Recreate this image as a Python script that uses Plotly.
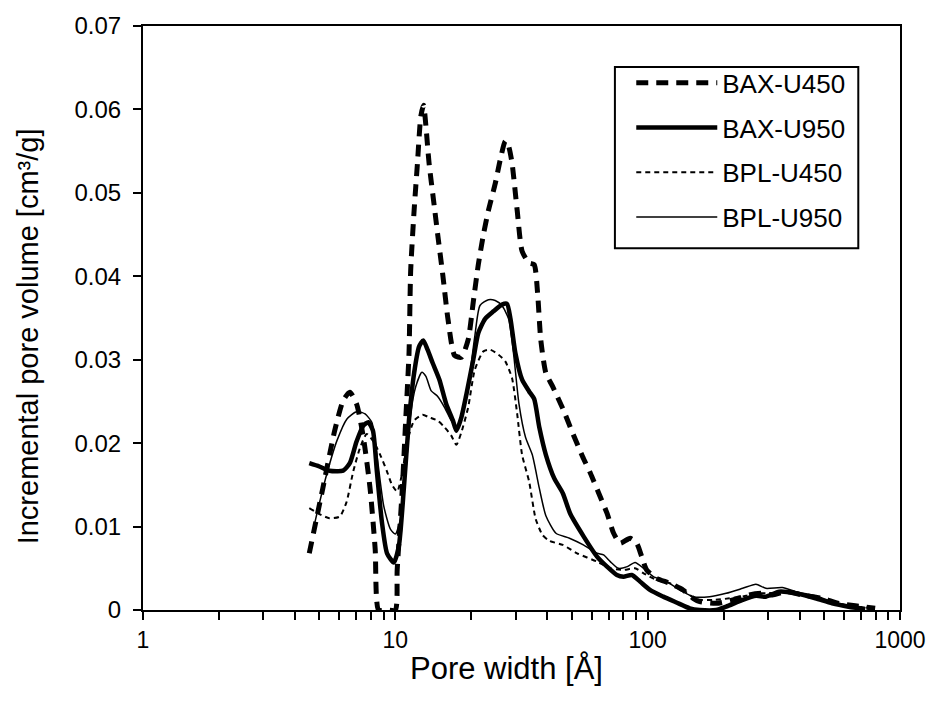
import plotly.graph_objects as go

# ---- data ----
bax_u450_x = [4.56, 5.16, 5.75, 6.21, 6.6, 7.02, 7.47, 7.94, 8.32, 8.58, 9.2, 10.0, 10.17, 10.66, 10.99,
              11.33, 11.5, 11.87, 12.24, 12.62, 12.94, 13.22, 13.6, 14.28, 14.72, 15.43, 16.16, 17.18,
              18.27, 19.44, 20.36, 21.32, 22.34, 23.39, 24.88, 26.06, 27.28, 28.1, 29.0, 30.4, 31.8,
              33.9, 35.5, 36.6, 37.7, 39.5, 42.0, 46.3, 50.3, 55.2, 59.3, 64.0, 69.0, 73.3, 77.8, 85.2,
              90.5, 94.7, 99.1, 108.5, 122.4, 138.2, 151.4, 160.8, 187, 217.5, 252.8, 285, 312.4,
              352.5, 410, 492, 572, 665, 797]
bax_u450_y = [0.0068, 0.0146, 0.0215, 0.0251, 0.0261, 0.0247, 0.0207, 0.0146, 0.0073, 0.0, 0.0, 0.0,
              0.0048, 0.0146, 0.0227, 0.0308, 0.0406, 0.0479, 0.0536, 0.0592, 0.0605, 0.058, 0.0536,
              0.0483, 0.045, 0.0401, 0.0349, 0.0305, 0.0303, 0.0324, 0.0369, 0.0414, 0.045, 0.0479,
              0.0511, 0.054, 0.0562, 0.0556, 0.0536, 0.0479, 0.043, 0.0416, 0.0414, 0.0381, 0.0324,
              0.0284, 0.0268, 0.0240, 0.0213, 0.0184, 0.0164, 0.014, 0.0116, 0.0092, 0.008, 0.0086,
              0.008, 0.0064, 0.0048, 0.0038, 0.0032, 0.0024, 0.0014, 0.001, 0.0008, 0.0012, 0.0018,
              0.002, 0.0018, 0.0022, 0.0018, 0.0014, 0.0008, 0.0005, 0.0002]

bax_u950_x = [4.56, 5.0, 5.48, 6.21, 6.6, 7.02, 7.47, 7.82, 8.15, 8.45, 8.85, 9.27, 9.86, 10.32, 10.81,
              11.32, 11.87, 12.43, 12.9, 13.42, 14.06, 14.95, 15.91, 16.92, 17.45, 18.27, 19.14, 20.36,
              21.32, 22.69, 24.49, 26.45, 27.7, 28.6, 29.9, 31.8, 33.9, 35.5, 37.2, 39.5, 42.6, 46.1,
              49.4, 55.8, 63.0, 69.0, 75.5, 80.2, 86.5, 93.3, 102.1, 115.3, 130, 146.8, 160.8, 187,
              204.7, 238, 268.7, 294, 332, 386, 462, 538, 625, 728]
bax_u950_y = [0.0176, 0.0172, 0.0167, 0.0167, 0.0176, 0.0202, 0.0221, 0.0225, 0.0215, 0.0166, 0.0105,
              0.0068, 0.0057, 0.0076, 0.0146, 0.0227, 0.0284, 0.0316, 0.0323, 0.0312, 0.0296, 0.0276,
              0.0247, 0.0227, 0.0215, 0.0231, 0.0259, 0.03, 0.0332, 0.0349, 0.0358, 0.0366, 0.0367,
              0.0349, 0.0308, 0.0276, 0.0262, 0.0253, 0.0219, 0.0186, 0.0158, 0.0140, 0.0115, 0.0088,
              0.0064, 0.0052, 0.0042, 0.004, 0.0042, 0.0034, 0.0024, 0.0016, 0.0009, 0.0002, 0.0, 0.0,
              0.0004, 0.0012, 0.0017, 0.0016, 0.0022, 0.002, 0.0014, 0.0008, 0.0004, 0.0001]

bpl_u450_x = [4.56, 5.0, 5.48, 6.02, 6.4, 6.81, 7.24, 7.7, 8.19, 8.71, 9.27, 9.7, 10.17, 10.66, 11.15,
              11.87, 12.82, 13.6, 14.72, 15.66, 16.66, 17.45, 18.27, 19.44, 20.65, 22.34, 23.75, 25.64,
              27.28, 29.0, 30.4, 31.8, 33.9, 36.0, 38.3, 40.7, 46.1, 52.5, 63, 71.1, 80.2, 89.1, 96.3,
              108.5, 122.4, 138, 156, 181.5, 211, 245.5, 277, 307.5, 352, 410, 492, 572, 685, 797]
bpl_u450_y = [0.0122, 0.0115, 0.0110, 0.0112, 0.0129, 0.0166, 0.0194, 0.0211, 0.0202, 0.0186, 0.0166,
              0.015, 0.0142, 0.0165, 0.0202, 0.0227, 0.0234, 0.0231, 0.0227, 0.0219, 0.0209, 0.0198,
              0.0213, 0.0243, 0.0288, 0.031, 0.0312, 0.0306, 0.0298, 0.0278, 0.0235, 0.0186, 0.0154,
              0.0109, 0.0090, 0.0083, 0.0078, 0.0068, 0.0058, 0.005, 0.0048, 0.005, 0.0044, 0.0036,
              0.0032, 0.0024, 0.0013, 0.0012, 0.0014, 0.0017, 0.002, 0.002, 0.0023, 0.0018, 0.0012,
              0.0007, 0.0004, 0.0002]

bpl_u950_x = [4.8, 5.0, 5.36, 5.87, 6.43, 6.93, 7.13, 7.59, 8.07, 8.45, 8.99, 9.56, 10.0, 10.48, 11.0,
              11.5, 12.05, 12.74, 13.22, 13.85, 14.72, 15.66, 16.66, 17.45, 18.27, 19.44, 20.65, 21.65,
              23.39, 24.88, 26.45, 28.1, 29.4, 30.9, 32.8, 34.9, 37.2, 39.5, 43.3, 49.0, 55.6, 63, 66.9,
              71.1, 76.6, 83.0, 89.1, 96.3, 105.3, 119, 134, 151.4, 176, 204.7, 238, 268.7, 294, 342,
              386, 462, 538, 625, 728]
bpl_u950_y = [0.0105, 0.0128, 0.0164, 0.0203, 0.0229, 0.0237, 0.0238, 0.0235, 0.0225, 0.0186, 0.0125,
              0.0097, 0.0091, 0.0109, 0.0166, 0.0235, 0.0268, 0.0285, 0.028, 0.0263, 0.0256, 0.0243,
              0.0227, 0.0218, 0.0229, 0.0268, 0.0328, 0.0365, 0.0372, 0.0371, 0.0365, 0.0349, 0.0308,
              0.0247, 0.0207, 0.0186, 0.0146, 0.0113, 0.0092, 0.0086, 0.0078, 0.0068, 0.0066, 0.0058,
              0.005, 0.0052, 0.0057, 0.005, 0.004, 0.0034, 0.0024, 0.0016, 0.0016, 0.002, 0.0026,
              0.0031, 0.0026, 0.0027, 0.0022, 0.0017, 0.001, 0.0006, 0.0003]

series_names = ["BAX-U450", "BAX-U950", "BPL-U450", "BPL-U950"]
y_tick_vals = [0, 0.01, 0.02, 0.03, 0.04, 0.05, 0.06, 0.07]
y_tick_text = ["0", "0.01", "0.02", "0.03", "0.04", "0.05", "0.06", "0.07"]
x_tick_vals = [1, 10, 100, 1000]
x_tick_text = ["1", "10", "100", "1000"]
x_title = "Pore width [Å]"
y_title = "Incremental pore volume [cm³/g]"

FONT = "Liberation Sans, Arial, sans-serif"

styles = [
    dict(width=5, dash="12px,8px"),
    dict(width=4.5, dash="solid"),
    dict(width=2, dash="5px,4px"),
    dict(width=1.5, dash="solid"),
]
data = [(bax_u450_x, bax_u450_y), (bax_u950_x, bax_u950_y),
        (bpl_u450_x, bpl_u450_y), (bpl_u950_x, bpl_u950_y)]

fig = go.Figure()
for name, (xs, ys), st in zip(series_names, data, styles):
    fig.add_trace(go.Scatter(
        x=xs, y=ys, name=name, mode="lines", legendgroup=name,
        line=dict(color="black", width=st["width"], dash=st["dash"], shape="spline", smoothing=0.6),
    ))

# legend frame
fig.add_shape(type="rect", xref="paper", yref="paper",
              x0=0.6234, x1=0.9449, y0=0.6195, y1=0.930,
              line=dict(color="black", width=2), fillcolor="rgba(0,0,0,0)", layer="above")

# axis titles as positioned text
fig.add_annotation(text=y_title, xref="paper", yref="paper", x=-0.1516, y=0.469,
                   textangle=-90, showarrow=False, xanchor="center", yanchor="middle",
                   font=dict(family=FONT, size=29, color="black"))
fig.add_annotation(text=x_title, xref="paper", yref="paper", x=0.4803, y=-0.100,
                   showarrow=False, xanchor="center", yanchor="middle",
                   font=dict(family=FONT, size=31, color="black"))

fig.update_layout(
    width=938, height=704,
    margin=dict(l=143, r=33, t=24, b=94),
    paper_bgcolor="white", plot_bgcolor="white",
    font=dict(family=FONT, color="black", size=22),
    showlegend=True,
    legend=dict(
        x=0.645, y=0.943, xanchor="left", yanchor="top",
        bgcolor="rgba(0,0,0,0)", borderwidth=0,
        font=dict(family=FONT, size=26, color="black"),
        itemwidth=81, tracegroupgap=8,
    ),
    xaxis=dict(
        type="log", range=[0, 3],
        tickvals=x_tick_vals, ticktext=x_tick_text,
        ticks="outside", ticklen=8, tickwidth=1.5, tickcolor="black",
        minor=dict(ticks="outside", ticklen=8, tickwidth=1.5, tickcolor="black", dtick="D1", showgrid=False),
        showline=True, linecolor="black", linewidth=2, mirror=True,
        showgrid=False, zeroline=False,
        tickfont=dict(size=23),
    ),
    yaxis=dict(
        range=[0, 0.07],
        tickvals=y_tick_vals, ticktext=y_tick_text,
        ticks="outside", ticklen=8, tickwidth=1.5, tickcolor="black",
        ticklabelstandoff=7,
        showline=True, linecolor="black", linewidth=2, mirror=True,
        showgrid=False, zeroline=False,
        tickfont=dict(size=24),
    ),
)

fig.write_html("out.html")
